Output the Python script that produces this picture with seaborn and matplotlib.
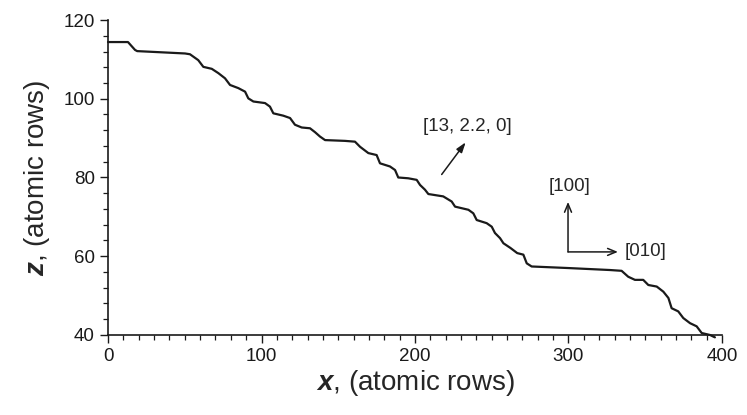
import numpy as np
import pandas as pd
import seaborn as sns
import matplotlib.pyplot as plt
from matplotlib.ticker import MultipleLocator

# step profile
x_rows = [0, 13, 17.6, 19, 50.2, 53.4, 58.8, 62.1, 67.6, 71.9, 76.2, 79.5,
          84.9, 89.3, 91.4, 94.7, 102.3, 105.5, 107.7, 114.2, 118.6, 121.8,
          126.2, 131.6, 134.9, 138.1, 141.4, 154.4, 160.9, 164.2, 169.6, 175.0,
          177.2, 183.7, 187.0, 189.1, 195.6, 201.1, 203.3, 206.5, 208.7, 218.4,
          223.9, 226.1, 234.8, 238.0, 240.2, 246.7, 250.0, 252.1, 255.4, 257.6,
          262.2, 266.6, 270.6, 272.8, 276.0, 300.0, 327.0, 334.6, 338.9, 343.3,
          348.7, 352.0, 357.5, 361.8, 365.1, 367.2, 371.5, 374.8, 379.2, 383.5,
          386.8, 392.2, 395.4]
z_rows = [114.4, 114.4, 112.4, 112.1, 111.5, 111.3, 109.8, 108.1, 107.6, 106.5,
          105.2, 103.5, 102.7, 101.8, 100.1, 99.3, 98.9, 98.0, 96.3, 95.7, 95.1,
          93.4, 92.7, 92.5, 91.5, 90.4, 89.5, 89.3, 89.1, 87.8, 86.2, 85.7, 83.6,
          82.8, 81.9, 80.0, 79.8, 79.4, 78.1, 76.9, 75.8, 75.2, 73.9, 72.6, 71.8,
          70.9, 69.2, 68.4, 67.5, 65.9, 64.6, 63.3, 62.1, 60.8, 60.4, 58.2, 57.4,
          57.0, 56.5, 56.3, 54.8, 54.0, 54.0, 52.7, 52.3, 51.0, 49.4, 46.8, 46.0,
          44.3, 43.0, 42.2, 40.5, 40.0, 39.4]

df = pd.DataFrame({"x": x_rows, "z": z_rows})

sns.set_style("ticks")
plt.rcParams["font.family"] = ["Liberation Sans", "DejaVu Sans"]
plt.rcParams["mathtext.fontset"] = "custom"
plt.rcParams["mathtext.bfit"] = "Liberation Sans:italic:bold"

fig = plt.figure(figsize=(7.47, 4.15), dpi=100)
ax = fig.add_axes([0.1446, 0.1928, 0.8219, 0.759])

sns.lineplot(data=df, x="x", y="z", sort=False, estimator=None,
             color="#1a1a1a", lw=1.6, ax=ax)
ax.lines[0].set_clip_on(False)

ax.set_xlim(0, 400)
ax.set_ylim(40, 120)
ax.xaxis.set_major_locator(MultipleLocator(100))
ax.xaxis.set_minor_locator(MultipleLocator(10))
ax.yaxis.set_major_locator(MultipleLocator(20))
ax.yaxis.set_minor_locator(MultipleLocator(4))
ax.tick_params(which="major", length=6, width=1, labelsize=13.5, colors="#1a1a1a")
ax.tick_params(which="minor", length=3.5, width=0.9, colors="#1a1a1a")
sns.despine(ax=ax)
for s in ("left", "bottom"):
    ax.spines[s].set_linewidth(1.2)
    ax.spines[s].set_color("#1a1a1a")

ax.set_xlabel(r"$\mathbfit{x}$, (atomic rows)", fontsize=20, labelpad=2)
ax.set_ylabel(r"$\mathbfit{z}$, (atomic rows)", fontsize=20, labelpad=8)

# crystallographic direction markers
ax.annotate("", xy=(234.1, 89.5), xytext=(216.3, 80.2),
            arrowprops=dict(arrowstyle="-|>,head_length=0.6,head_width=0.2",
                            color="#1a1a1a", lw=1.1))
ax.text(234.2, 92.9, "[13, 2.2, 0]", fontsize=13.5, ha="center", va="center")

ax.annotate("", xy=(299.7, 73.8), xytext=(299.7, 61.1),
            arrowprops=dict(arrowstyle="->,head_length=0.6,head_width=0.25",
                            color="#1a1a1a", lw=1.1, shrinkA=0, shrinkB=0))
ax.annotate("", xy=(332.2, 61.1), xytext=(299.7, 61.1),
            arrowprops=dict(arrowstyle="->,head_length=0.6,head_width=0.25",
                            color="#1a1a1a", lw=1.1, shrinkA=0, shrinkB=0))
ax.text(301, 77.6, "[100]", fontsize=13.5, ha="center", va="center")
ax.text(336.8, 61.1, "[010]", fontsize=13.5, ha="left", va="center")

fig.savefig("out.png", dpi=100)
